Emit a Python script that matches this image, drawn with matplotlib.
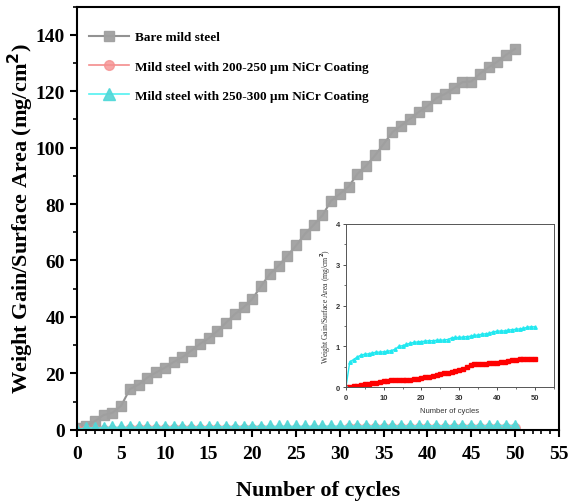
import matplotlib
matplotlib.use("Agg")
import matplotlib.pyplot as plt
from matplotlib.ticker import MultipleLocator

cycles = list(range(0, 51))

bare = [0.5, 1.4, 3.0, 5.2, 6.0, 8.5, 14.4, 16.0, 18.5, 20.3,
        22.0, 24.0, 25.7, 28.0, 30.4, 32.4, 35.0, 38.0, 41.0, 43.4,
        46.4, 51.0, 55.2, 58.2, 61.7, 65.3, 69.4, 72.6, 76.0, 81.2,
        83.6, 86.2, 90.7, 93.6, 97.2, 101.3, 105.5, 107.8, 110.2, 112.6,
        114.7, 117.5, 119.0, 121.0, 123.2, 123.4, 126.2, 128.5, 130.5, 132.9,
        135.0]

nicr_200 = [0.00, 0.01, 0.02, 0.04, 0.06, 0.07, 0.08, 0.10, 0.11, 0.13,
            0.15, 0.16, 0.17, 0.17, 0.18, 0.19, 0.19, 0.19, 0.20, 0.21,
            0.23, 0.24, 0.25, 0.27, 0.30, 0.32, 0.34, 0.36, 0.38, 0.41,
            0.42, 0.44, 0.50, 0.55, 0.56, 0.57, 0.58, 0.58, 0.59, 0.60,
            0.60, 0.61, 0.62, 0.64, 0.67, 0.68, 0.69, 0.69, 0.69, 0.70,
            0.70]

nicr_250 = [0.00, 0.62, 0.68, 0.74, 0.79, 0.81, 0.82, 0.84, 0.86, 0.86,
            0.87, 0.88, 0.90, 0.93, 1.00, 1.02, 1.05, 1.08, 1.10, 1.11,
            1.12, 1.13, 1.14, 1.14, 1.15, 1.15, 1.16, 1.17, 1.21, 1.22,
            1.22, 1.23, 1.24, 1.25, 1.27, 1.28, 1.30, 1.31, 1.32, 1.36,
            1.37, 1.38, 1.38, 1.40, 1.41, 1.42, 1.43, 1.44, 1.47, 1.48,
            1.48]

labels = ["Bare mild steel",
          "Mild steel with 200-250 \u00b5m NiCr Coating",
          "Mild steel with 250-300 \u00b5m NiCr Coating"]

plt.rcParams["font.family"] = ["Liberation Serif", "DejaVu Serif"]
plt.rcParams["font.weight"] = "bold"

fig = plt.figure(figsize=(5.69, 5.02), dpi=100)
ax = fig.add_axes([0.136, 0.142, 0.846, 0.843])

ax.plot(cycles, bare, color="#8c8c8c", lw=1.5, marker="s", ms=7,
        mfc="#a0a0a0", mec="#a0a0a0", alpha=0.95, label=labels[0])
ax.plot(cycles, nicr_200, color="#f07070", lw=1.2, marker="o", ms=7,
        mfc="#f59090", mec="#f59090", alpha=0.8, label=labels[1])
ax.plot(cycles, nicr_250, color="#40f0f0", lw=1.2, marker="^", ms=9,
        mfc="#4fd8d8", mec="#4fd8d8", alpha=0.9, label=labels[2])

ax.set_xlim(0, 55)
ax.set_ylim(0, 150)
ax.xaxis.set_major_locator(MultipleLocator(5))
ax.xaxis.set_minor_locator(MultipleLocator(1))
ax.yaxis.set_minor_locator(MultipleLocator(10))
ax.set_yticks(range(0, 141, 20))
ax.tick_params(which="major", direction="out", length=5, width=1.5,
               labelsize=14, pad=4)
ax.tick_params(axis="x", which="major", pad=6)
ax.tick_params(which="minor", direction="out", length=3, width=1.2)
for s in ax.spines.values():
    s.set_linewidth(1.5)

ax.set_xlabel("Number of cycles", fontsize=16, fontweight="bold", labelpad=13)
ax.set_ylabel("Weight Gain/Surface Area (mg/cm$^\\mathbf{2}$)", fontsize=16,
              fontweight="bold", labelpad=0)

leg = ax.legend(loc="upper left", frameon=False, fontsize=9.5,
                handlelength=3.0, labelspacing=1.3, handletextpad=0.5,
                bbox_to_anchor=(0.0, 0.97))

# inset
ins = fig.add_axes([0.608, 0.2265, 0.365, 0.3255])
ins.plot(cycles, nicr_200, color="red", lw=1.0, marker="s", ms=2.2)
ins.plot(cycles, nicr_250, color="#22e8f0", lw=1.0, marker="^", ms=2.5)
ins.set_xlim(0, 55)
ins.set_ylim(0, 4)
ins.set_xticks(range(0, 51, 10))
ins.set_yticks(range(0, 5))
ins.xaxis.set_minor_locator(MultipleLocator(5))
ins.yaxis.set_minor_locator(MultipleLocator(0.5))
for s in ins.spines.values():
    s.set_linewidth(0.7)
    s.set_color("#555555")
ins.tick_params(which="major", direction="out", length=2.5, width=0.6,
                labelsize=5.5, pad=2, colors="#333333")
ins.tick_params(which="minor", direction="out", length=1.5, width=0.5,
                colors="#333333")
for t in ins.get_xticklabels() + ins.get_yticklabels():
    t.set_family("Liberation Sans")
ins.set_xlabel("Number of cycles", fontsize=5.5, family="Liberation Sans",
               fontweight="normal", color="#333333", labelpad=5)
ins.set_ylabel("Weight Gain/Surface Area (mg/cm$^2$)", fontsize=5.5,
               family="Liberation Serif", fontweight="normal",
               color="#333333", labelpad=2)

fig.savefig("out.png", dpi=100)
